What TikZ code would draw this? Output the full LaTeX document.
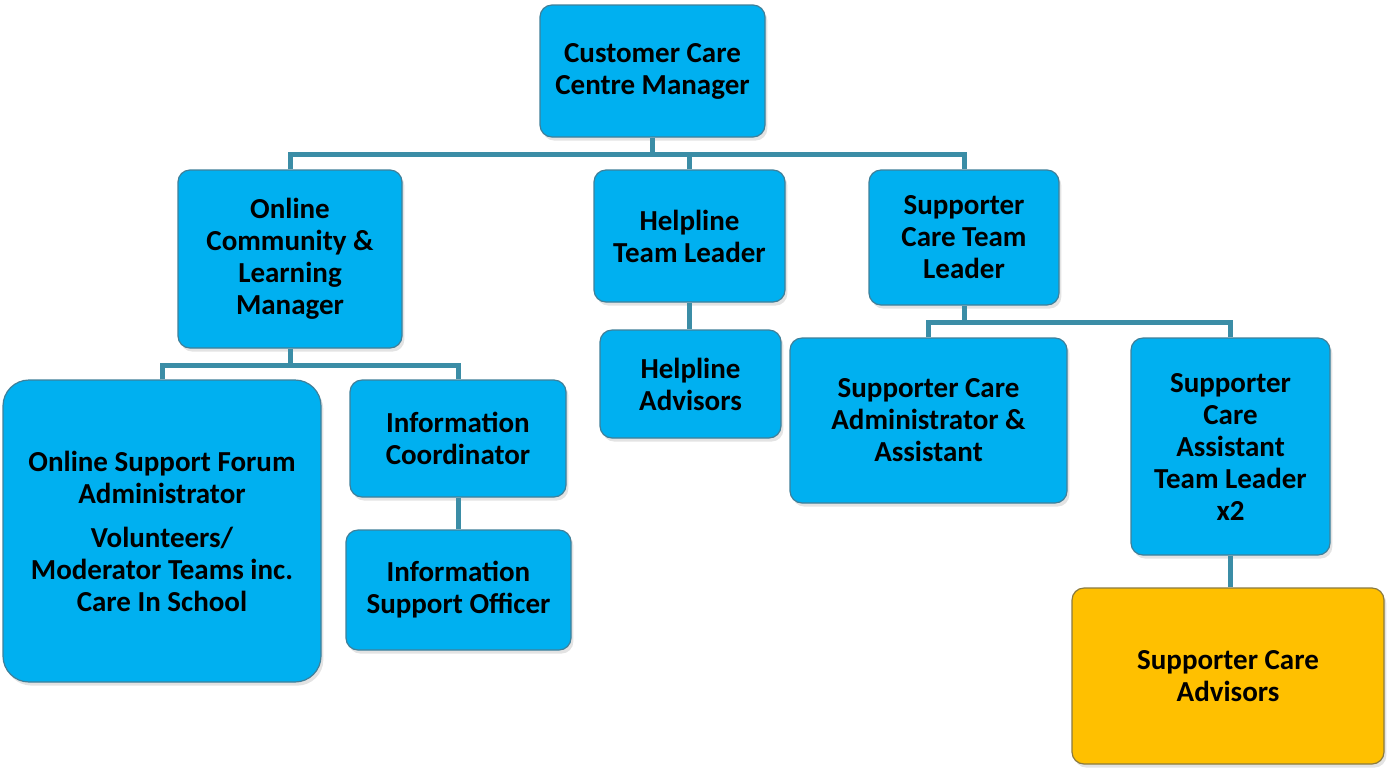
\documentclass[tikz,border=0pt]{standalone}
\usepackage{fontspec}
\setmainfont{Carlito}
\usetikzlibrary{shadows}
\definecolor{boxblue}{HTML}{00B0F0}
\definecolor{boxedge}{HTML}{3F7F99}
\definecolor{boxorange}{HTML}{FFC000}
\definecolor{orangeedge}{HTML}{8A7A40}
\definecolor{conncol}{HTML}{3B8DA6}
\tikzset{
  box/.style={draw=boxedge, line width=0.6pt, fill=boxblue, rounded corners=6pt,
    align=center, inner sep=0pt, text=black,
    font=\fontsize{14.5}{16}\selectfont\bfseries,
    drop shadow={opacity=0.22, shadow xshift=1.2pt, shadow yshift=-1.8pt}},
  sz/.style 2 args={minimum width=#1*0.5pt, minimum height=#2*0.5pt},
  conn/.style={draw=conncol, line width=2.5pt}
}
\begin{document}
\begin{tikzpicture}[x=0.5pt,y=-0.5pt]
\useasboundingbox (0,0) rectangle (1387,767);
\coordinate (b1) at (652,154);
\coordinate (b2) at (290,365);
\coordinate (b3) at (965,322);
% nodes
\node[box, sz={225}{132}] (cccm) at (652.5,71) {Customer Care\\Centre Manager};
\node[box, sz={224}{178}] (oc) at (290,259) {Online\\Community \&\\Learning\\Manager};
\node[box, sz={191}{132}] (htl) at (689.5,236) {Helpline\\Team Leader};
\node[box, sz={190}{135}] (stl) at (964,237.5) {Supporter\\Care Team\\Leader};
\node[box, sz={318}{302}, rounded corners=13pt] (osfa) at (162,531) {Online Support Forum\\Administrator\\[6pt]Volunteers/\\Moderator Teams inc.\\Care In School};
\node[box, sz={216}{117}] (ic) at (458,438.5) {Information\\Coordinator};
\node[box, sz={225}{120}] (iso) at (458.5,590) {Information\\Support Officer};
\node[box, sz={181}{108}] (ha) at (690.5,384) {Helpline\\Advisors};
\node[box, sz={277}{165}] (scaa) at (928.5,420.5) {Supporter Care\\Administrator \&\\Assistant};
\node[box, sz={199}{217}] (scatl) at (1230.5,446.5) {Supporter\\Care\\Assistant\\Team Leader\\x2};
\node[box, sz={312}{176}, fill=boxorange, draw=orangeedge] (sca) at (1228,676) {Supporter Care\\Advisors};
% connectors
\draw[conn] (cccm.south) -- (cccm.south |- b1);
\draw[conn] (oc.north) -- (oc.north |- b1) -- (stl.north |- b1) -- (stl.north);
\draw[conn] (htl.north) -- (htl.north |- b1);
\draw[conn] (oc.south) -- (oc.south |- b2);
\draw[conn] (osfa.north) -- (osfa.north |- b2) -- (ic.north |- b2) -- (ic.north);
\draw[conn] (ic.south) -- (ic.south |- iso.north);
\draw[conn] (htl.south) -- (htl.south |- ha.north);
\draw[conn] (stl.south) -- (stl.south |- b3);
\draw[conn] (scaa.north) -- (scaa.north |- b3) -- (scatl.north |- b3) -- (scatl.north);
\draw[conn] (scatl.south) -- (scatl.south |- sca.north);
\end{tikzpicture}
\end{document}
